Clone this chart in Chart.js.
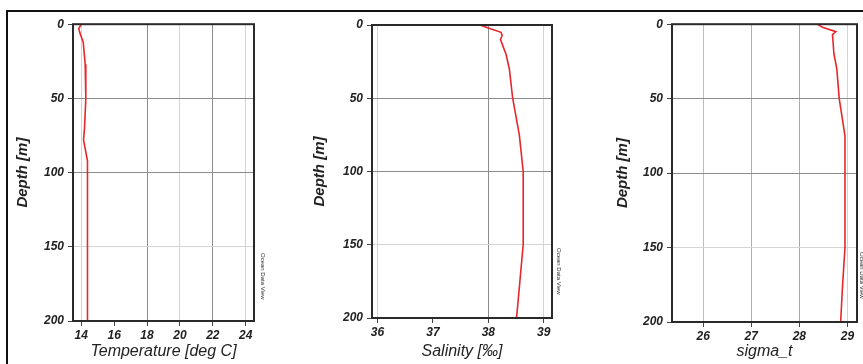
<!DOCTYPE html>
<html>
<head>
<meta charset="utf-8">
<script src="https://cdn.jsdelivr.net/npm/chart.js@4.4.1/dist/chart.umd.min.js"></script>
<style>
  html, body { margin: 0; padding: 0; background: #fff; }
  body { width: 863px; height: 364px; position: relative; overflow: hidden; }
  .frame { position: absolute; left: 6px; top: 10px; width: 900px; height: 400px;
           border-top: 2px solid #111; border-left: 2px solid #111; }
  .panel { position: absolute; top: 13px; height: 351px; }
  .odv { position: absolute; font: 6px "Liberation Sans", Arial, sans-serif; color: #333;
         white-space: nowrap; transform-origin: 0 0; transform: rotate(90deg); }
</style>
</head>
<body>
<div class="frame"></div>
<div class="panel" style="left:9px;width:281px"><canvas id="c1"></canvas></div>
<div class="panel" style="left:295px;width:281px"><canvas id="c2"></canvas></div>
<div class="panel" style="left:590px;width:273px"><canvas id="c3"></canvas></div>
<span class="odv" style="left:266px;top:253px">Ocean Data View</span>
<span class="odv" style="left:562px;top:248px">Ocean Data View</span>
<span class="odv" style="left:865px;top:252px">Ocean Data View</span>
<script>
'use strict';

/* ---- Data ---- */
const depthTicks = [0, 50, 100, 150, 200];

const tempDepth = [0, 3, 7, 12, 27, 50, 70, 78, 92, 150, 200];
const tempVals  = [14.0, 13.85, 13.95, 14.12, 14.24, 14.28, 14.2, 14.14, 14.38, 14.38, 14.38];

const salDepth = [0, 2, 5, 7, 10, 20, 30, 50, 75, 100, 150, 200];
const salVals  = [37.85, 38.0, 38.23, 38.25, 38.22, 38.32, 38.38, 38.44, 38.56, 38.63, 38.63, 38.51];

const sigDepth = [0, 2, 5, 7, 20, 30, 50, 75, 100, 150, 175, 200];
const sigVals  = [28.38, 28.48, 28.76, 28.69, 28.72, 28.78, 28.83, 28.95, 28.95, 28.95, 28.9, 28.86];

const FONT = '"Liberation Sans", Arial, sans-serif';
const DARK = '#8c8c8c';
const LIGHT = '#d4d4d4';

/* ---- plot frame on all four sides ---- */
const framePlugin = {
  id: 'frame',
  afterDatasetsDraw(chart) {
    const a = chart.chartArea, ctx = chart.ctx;
    ctx.save();
    ctx.strokeStyle = '#2a2a2a';
    ctx.lineWidth = 2;
    ctx.strokeRect(a.left, a.top, a.right - a.left, a.bottom - a.top);
    ctx.restore();
  }
};

function makeProfile(id, opts) {
  const points = opts.depth.map((d, i) => ({ x: opts.vals[i], y: d }));
  return new Chart(document.getElementById(id), {
    type: 'scatter',
    data: {
      datasets: [{
        data: points,
        showLine: true,
        borderColor: '#e8262b',
        borderWidth: 1.6,
        pointRadius: 0,
        tension: 0
      }]
    },
    options: {
      responsive: false,
      animation: false,
      layout: { padding: { top: opts.padTop, right: opts.padRight, left: 0, bottom: 0 } },
      plugins: { legend: { display: false }, tooltip: { enabled: false } },
      scales: {
        x: {
          type: 'linear',
          min: opts.xMin,
          max: opts.xMax,
          afterFit: s => { s.height = opts.xHeight; },
          afterBuildTicks: s => { s.ticks = opts.xTicks.map(v => ({ value: v })); },
          grid: {
            color: c => opts.xGrid[c.index] || LIGHT,
            tickColor: '#444',
            tickLength: 5,
            lineWidth: 1
          },
          border: { display: false },
          ticks: {
            padding: 2,
            color: '#222',
            font: { family: FONT, size: 12, weight: 'bold', style: 'italic' }
          },
          title: {
            display: true,
            text: opts.xTitle,
            color: '#222',
            padding: { top: 0, bottom: 3 },
            font: { family: FONT, size: 16, style: 'italic' }
          }
        },
        y: {
          type: 'linear',
          reverse: true,
          min: 0,
          max: 200,
          afterFit: s => { s.width = opts.yWidth; },
          afterBuildTicks: s => { s.ticks = depthTicks.map(v => ({ value: v })); },
          grid: {
            color: c => (c.tick && (c.tick.value === 50 || c.tick.value === 100)) ? DARK : LIGHT,
            tickColor: '#444',
            tickLength: 5
          },
          border: { display: false },
          ticks: {
            padding: 4,
            color: '#222',
            font: { family: FONT, size: 12, weight: 'bold', style: 'italic' }
          },
          title: {
            display: true,
            text: 'Depth [m]',
            color: '#222',
            padding: { top: opts.yTitlePad, bottom: 0 },
            font: { family: FONT, size: 15, weight: 'bold', style: 'italic' }
          }
        }
      }
    },
    plugins: [framePlugin]
  });
}

function sizeCanvas(id, w, h) {
  const c = document.getElementById(id);
  c.width = w; c.height = h;
  c.style.width = w + 'px'; c.style.height = h + 'px';
}

sizeCanvas('c1', 281, 351);
sizeCanvas('c2', 281, 351);
sizeCanvas('c3', 273, 351);

makeProfile('c1', {
  depth: tempDepth, vals: tempVals,
  xMin: 13.5, xMax: 24.5, xTicks: [14, 16, 18, 20, 22, 24],
  xGrid: [LIGHT, 'rgba(0,0,0,0)', DARK, LIGHT, DARK, LIGHT],
  xTitle: 'Temperature [deg C]',
  padTop: 10, padRight: 36, xHeight: 43, yWidth: 64, yTitlePad: 5
});

makeProfile('c2', {
  depth: salDepth, vals: salVals,
  xMin: 35.9, xMax: 39.15, xTicks: [36, 37, 38, 39],
  xGrid: [LIGHT, 'rgba(0,0,0,0)', DARK, LIGHT],
  xTitle: 'Salinity [‰]',
  padTop: 12, padRight: 24, xHeight: 46, yWidth: 77, yTitlePad: 16
});

makeProfile('c3', {
  depth: sigDepth, vals: sigVals,
  xMin: 25.35, xMax: 29.2, xTicks: [26, 27, 28, 29],
  xGrid: ['#bdbdbd', '#b0b0b0', '#a8a8a8', LIGHT],
  xTitle: 'sigma_t',
  padTop: 10, padRight: 6, xHeight: 42, yWidth: 82, yTitlePad: 24
});
</script>
</body>
</html>
